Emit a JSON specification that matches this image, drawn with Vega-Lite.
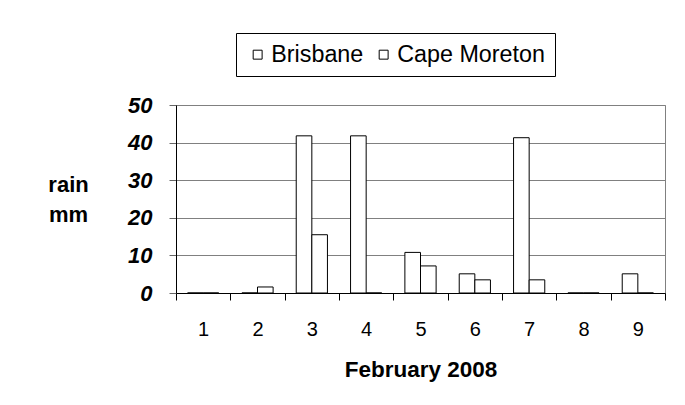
{
  "$schema": "https://vega.github.io/schema/vega-lite/v6.json",
  "autosize": {"type": "none"},
  "padding": {"left": 176, "top": 105, "right": 20, "bottom": 112},
  "width": 489,
  "height": 188,
  "background": "white",
  "config": {
    "font": "Liberation Sans",
    "view": {"stroke": "#808080", "strokeWidth": 1}
  },
  "data": {
    "values": [
      {"day": "1", "station": "Brisbane", "rain": 0},
      {"day": "1", "station": "Cape Moreton", "rain": 0},
      {"day": "2", "station": "Brisbane", "rain": 0},
      {"day": "2", "station": "Cape Moreton", "rain": 1.6},
      {"day": "3", "station": "Brisbane", "rain": 41.8},
      {"day": "3", "station": "Cape Moreton", "rain": 15.5},
      {"day": "4", "station": "Brisbane", "rain": 41.8},
      {"day": "4", "station": "Cape Moreton", "rain": 0},
      {"day": "5", "station": "Brisbane", "rain": 10.8},
      {"day": "5", "station": "Cape Moreton", "rain": 7.2},
      {"day": "6", "station": "Brisbane", "rain": 5.1},
      {"day": "6", "station": "Cape Moreton", "rain": 3.5},
      {"day": "7", "station": "Brisbane", "rain": 41.3},
      {"day": "7", "station": "Cape Moreton", "rain": 3.5},
      {"day": "8", "station": "Brisbane", "rain": 0},
      {"day": "8", "station": "Cape Moreton", "rain": 0},
      {"day": "9", "station": "Brisbane", "rain": 5.1},
      {"day": "9", "station": "Cape Moreton", "rain": 0}
    ]
  },
  "mark": {"type": "bar", "stroke": "black", "strokeWidth": 1},
  "encoding": {
    "x": {
      "field": "day",
      "type": "ordinal",
      "scale": {"paddingInner": 0, "paddingOuter": 0},
      "axis": {
        "title": "February 2008",
        "titleFont": "Liberation Sans",
        "titleFontSize": 22.5,
        "titleFontWeight": "bold",
        "titleColor": "black",
        "titleBaseline": "alphabetic",
        "titleY": 83,
        "labelAngle": 0,
        "labelFont": "Liberation Sans",
        "labelFontSize": 20,
        "labelColor": "black",
        "labelPadding": 19,
        "tickBand": "extent",
        "tickSize": 7,
        "tickColor": "black",
        "domainColor": "black",
        "grid": false
      }
    },
    "xOffset": {
      "field": "station",
      "type": "nominal",
      "scale": {"paddingInner": 0, "paddingOuter": 0.74}
    },
    "y": {
      "field": "rain",
      "type": "quantitative",
      "scale": {"domain": [0, 50], "nice": false},
      "axis": {
        "values": [0, 10, 20, 30, 40, 50],
        "title": ["rain", "mm"],
        "titleAngle": 0,
        "titleAlign": "center",
        "titleBaseline": "alphabetic",
        "titleX": -108,
        "titleY": 86,
        "titleLineHeight": 30.5,
        "titleFont": "Liberation Sans",
        "titleFontSize": 22,
        "titleFontWeight": "bold",
        "titleColor": "black",
        "labelFont": "Liberation Sans",
        "labelFontSize": 22,
        "labelFontWeight": "bold",
        "labelFontStyle": "italic",
        "labelColor": "black",
        "labelPadding": 17,
        "tickSize": 7,
        "tickColor": "#666666",
        "domainColor": "black",
        "grid": true,
        "gridColor": "#808080",
        "gridWidth": 1
      }
    },
    "fill": {
      "field": "station",
      "type": "nominal",
      "scale": {"domain": ["Brisbane", "Cape Moreton"], "range": ["white", "white"]},
      "legend": {
        "title": null,
        "orient": "none",
        "direction": "horizontal",
        "legendX": 60,
        "legendY": -72,
        "strokeColor": "black",
        "fillColor": "white",
        "padding": 10,
        "columnPadding": 8,
        "symbolType": "square",
        "symbolSize": 80,
        "symbolStrokeColor": "black",
        "symbolStrokeWidth": 1,
        "symbolFillColor": "white",
        "labelOffset": 2,
        "labelFont": "Liberation Sans",
        "labelFontSize": 23.3,
        "labelColor": "black",
        "labelLimit": 300
      }
    }
  }
}
